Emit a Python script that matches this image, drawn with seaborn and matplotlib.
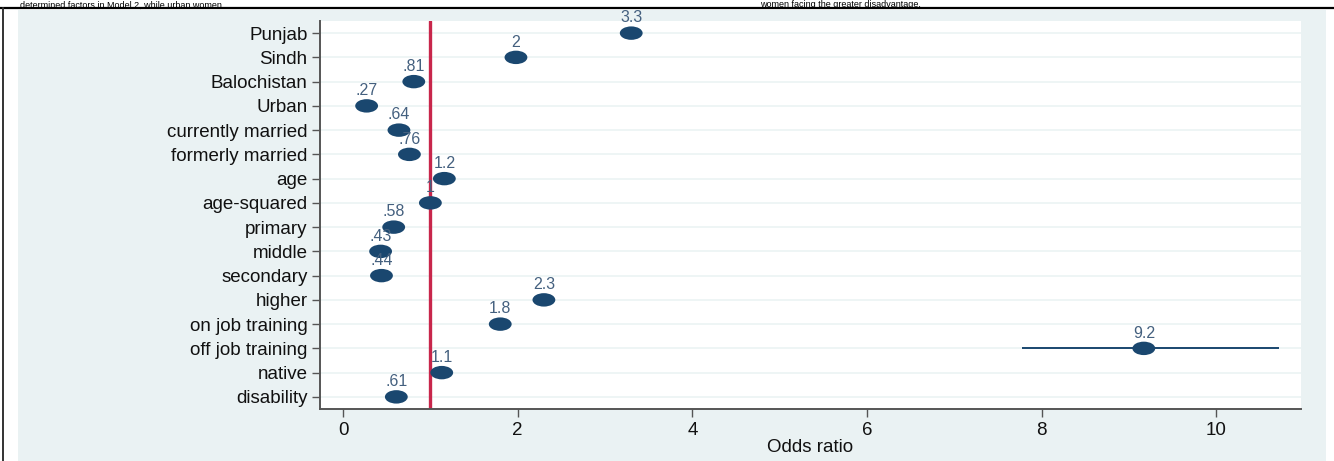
import numpy as np, pandas as pd
import matplotlib; matplotlib.use("Agg")
import matplotlib.pyplot as plt
from matplotlib.path import Path
from matplotlib.transforms import Affine2D
from matplotlib.patches import Rectangle
from matplotlib.lines import Line2D
import seaborn as sns

sns.set_theme(style="white")
plt.rcParams["font.family"] = ["Liberation Sans", "DejaVu Sans"]

# data
labels = ["Punjab", "Sindh", "Balochistan", "Urban", "currently married", "formerly married",
          "age", "age-squared", "primary", "middle", "secondary", "higher",
          "on job training", "off job training", "native", "disability"]
odds = [3.30, 1.98, 0.81, 0.27, 0.64, 0.76, 1.16, 1.00, 0.58, 0.43, 0.44, 2.30, 1.80, 9.17, 1.13, 0.61]
ci_lo = [np.nan]*13 + [7.78] + [np.nan]*2
ci_hi = [np.nan]*13 + [10.72] + [np.nan]*2
val_text = ["3.3", "2", ".81", ".27", ".64", ".76", "1.2", "1", ".58", ".43", ".44", "2.3", "1.8", "9.2", "1.1", ".61"]
xticks = [0, 2, 4, 6, 8, 10]

df = pd.DataFrame({"label": labels, "or": odds, "lo": ci_lo, "hi": ci_hi, "txt": val_text})
df["pos"] = np.arange(len(df))

NAVY = "#1A476F"; LBL = "#44607F"; BG = "#EAF2F3"; RED = "#C8264B"

W, H = 1334, 461
fig = plt.figure(figsize=(W/100, H/100), dpi=100)
fig.patch.set_facecolor("white")
# graph region + frame
fig.patches.append(Rectangle((18/W, 0), (1326-18)/W, (H-10)/H, transform=fig.transFigure,
                             facecolor=BG, edgecolor="none", zorder=-5))
fig.lines.append(Line2D([0, 1], [(H-8)/H]*2, transform=fig.transFigure, color="black", lw=1.6))
fig.lines.append(Line2D([3/W]*2, [0, (H-8)/H], transform=fig.transFigure, color="#333333", lw=1.4))
# caption text from the page above the figure
fig.text(20/W, 0.999, "determined factors in Model 2, while urban women", fontsize=6.5,
         va="top", ha="left", color="black")
fig.text(760/W, 0.999, "women facing the greater disadvantage.", fontsize=6.5,
         va="top", ha="left", color="black")

ax = fig.add_axes([320/W, (H-409)/H, (1301-320)/W, (409-21)/H])
ax.set_zorder(2)
ax.set_facecolor("white")

for p in df.pos:
    ax.axhline(p, color=BG, lw=1.1, zorder=0)
ax.axvline(1, color=RED, lw=2.4, zorder=1)

ci = df.dropna(subset=["lo"])
ax.hlines(ci.pos, ci.lo, ci.hi, color=NAVY, lw=1.4, zorder=2)

ell = Path.unit_circle().transformed(Affine2D().scale(1.7, 1.0))
sns.scatterplot(data=df, x="or", y="pos", marker=ell, s=270, color=NAVY,
                edgecolor="none", linewidth=0, ax=ax, zorder=3, legend=False)
for _, r in df.iterrows():
    ax.annotate(r.txt, (r["or"], r.pos), xytext=(0, 5.5), textcoords="offset points",
                ha="center", va="bottom", fontsize=11.5, color=LBL, zorder=4)

ax.set_xlim(-0.264, 10.97)
ax.set_ylim(15.5, -0.5)
ax.set_yticks(df.pos)
ax.set_yticklabels(df.label, fontsize=13.5, color="#111111")
ax.set_xticks(xticks)
ax.set_xticklabels([str(t) for t in xticks], fontsize=13.5, color="#111111")
ax.set_xlabel("Odds ratio", fontsize=13.5, color="#111111", labelpad=0)
ax.set_ylabel("")
ax.tick_params(axis="both", direction="out", length=6, width=1, color="#555555",
               left=True, bottom=True, pad=3)
for s in ["top", "right"]:
    ax.spines[s].set_visible(False)
for s in ["left", "bottom"]:
    ax.spines[s].set_color("#555555"); ax.spines[s].set_linewidth(1.4)

fig.savefig("out.png", dpi=100)
